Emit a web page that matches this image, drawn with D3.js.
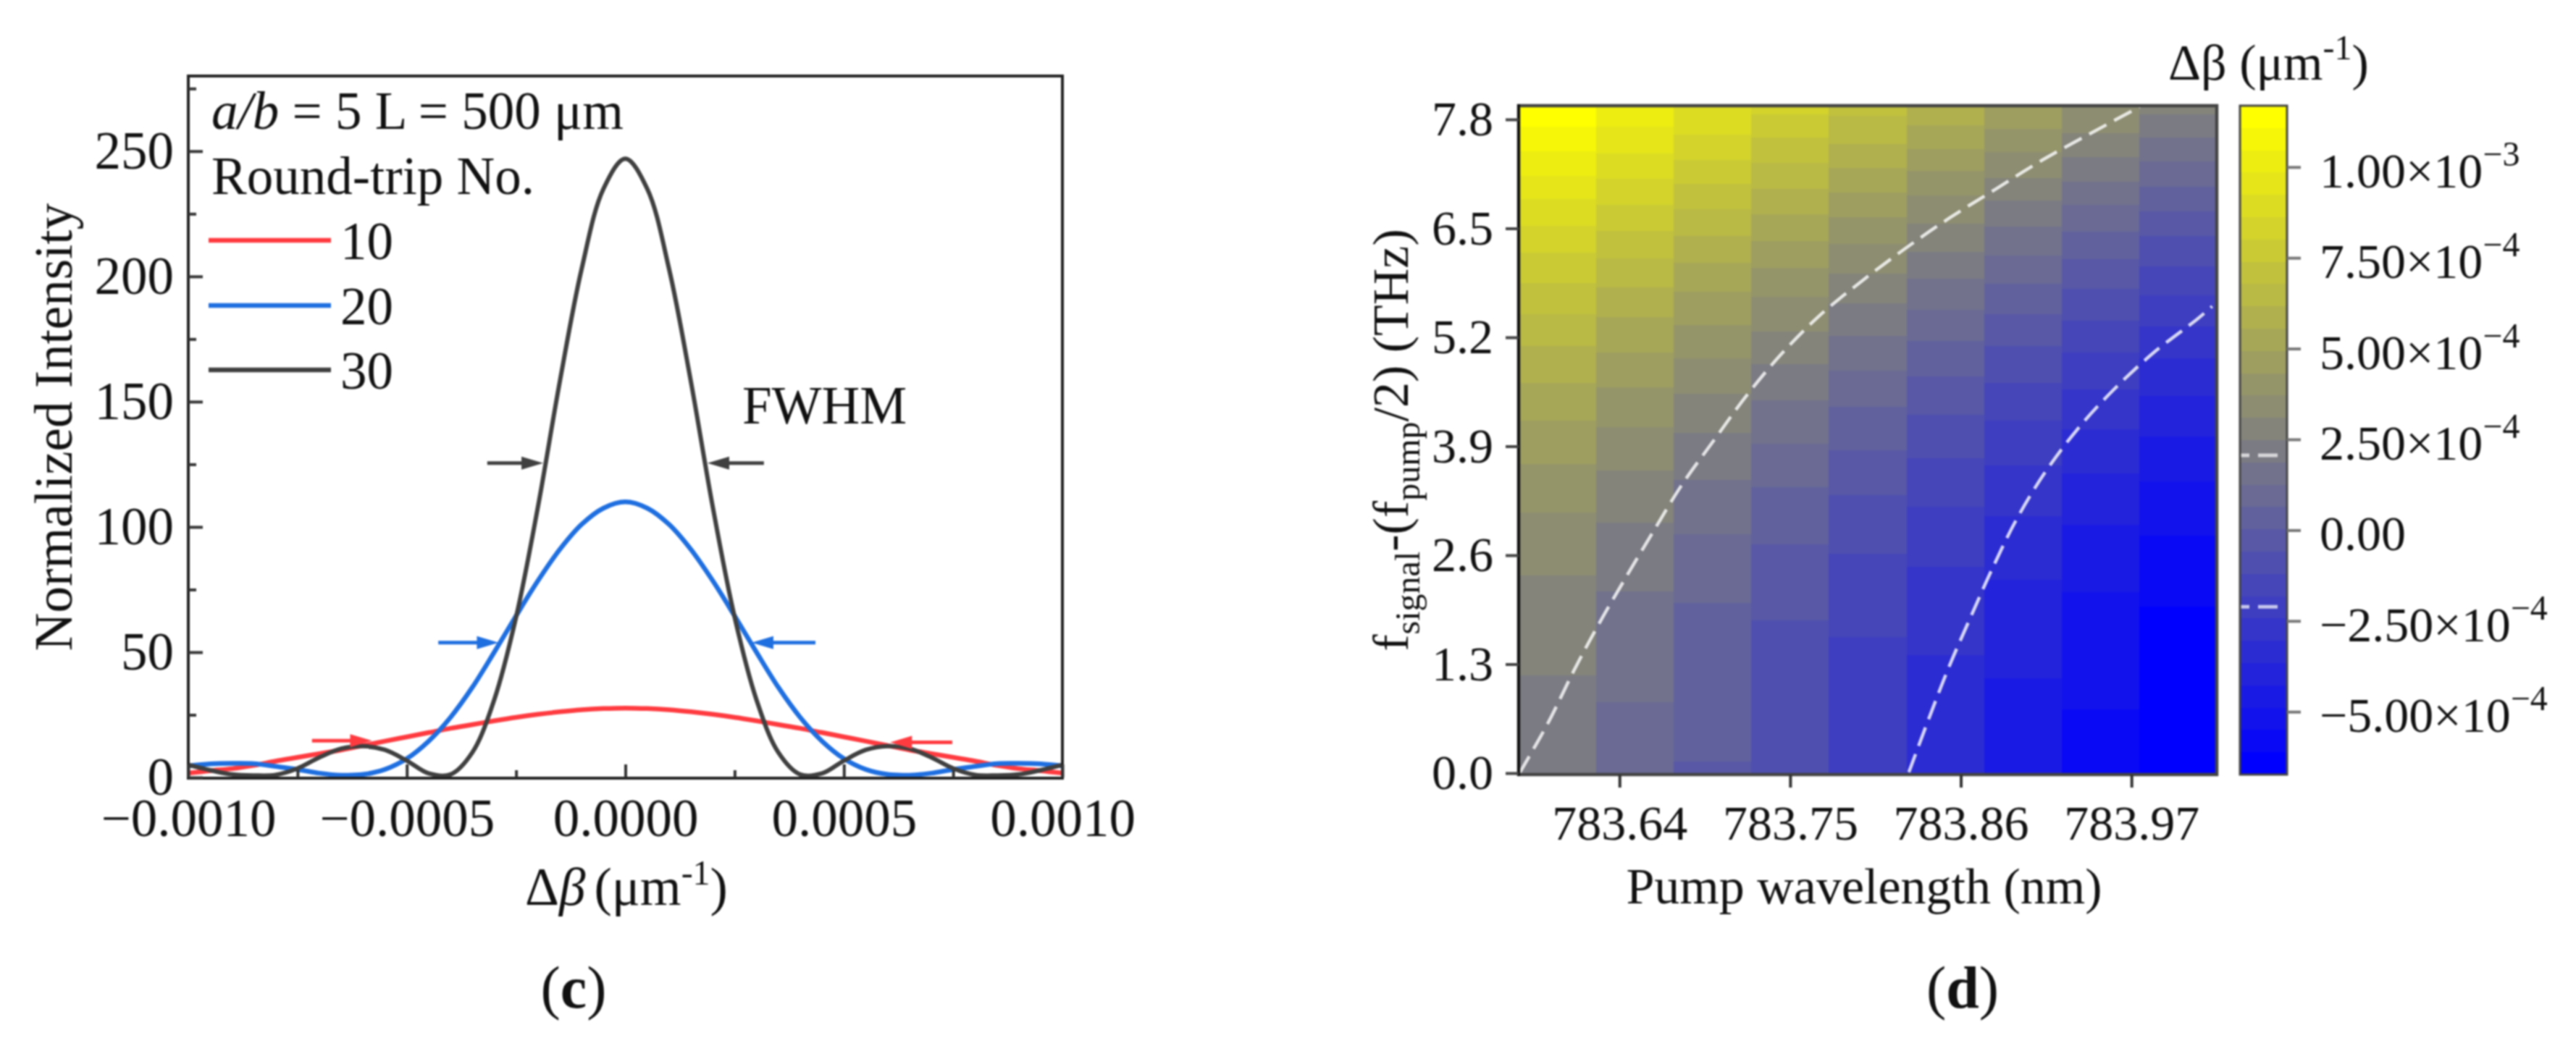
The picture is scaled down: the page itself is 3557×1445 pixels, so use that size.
<!DOCTYPE html>
<html>
<head>
<meta charset="utf-8">
<script src="https://cdn.jsdelivr.net/npm/d3@7"></script>
<style>
  body { margin: 0; background: #fff; }
  svg { display: block; filter: blur(0.8px); }
  text { font-family: "Liberation Serif", serif; fill: #111; }
</style>
</head>
<body>
<script>
// panel (c) values
const deltaBeta = [-0.001, -0.00095, -0.0009, -0.00085, -0.0008, -0.00075, -0.0007, -0.00065, -0.0006, -0.00055, -0.0005,
  -0.00045, -0.0004, -0.00035, -0.0003, -0.00025, -0.0002, -0.00015, -0.0001, -0.00005, 0,
  0.00005, 0.0001, 0.00015, 0.0002, 0.00025, 0.0003, 0.00035, 0.0004, 0.00045, 0.0005,
  0.00055, 0.0006, 0.00065, 0.0007, 0.00075, 0.0008, 0.00085, 0.0009, 0.00095, 0.001];
const trip10 = [1.7, 2.7, 3.5, 4.8, 6.5, 8, 9.5, 11, 12.7, 14.5, 16.2, 17.9, 19.6, 21.1, 22.6, 24, 25.2, 26.2, 27, 27.5, 27.7,
  27.5, 27, 26.2, 25.2, 24, 22.6, 21.1, 19.6, 17.9, 16.2, 14.5, 12.7, 11, 9.5, 8, 6.5, 4.8, 3.5, 2.7, 1.7];
const trip20 = [4.6, 5.4, 5.6, 5.5, 4.4, 3.2, 1.7, 0.9, 1.2, 3.2, 7.5, 14.5, 24, 36, 50, 64.5, 78.5, 91, 101, 107.5, 110,
  107.5, 101, 91, 78.5, 64.5, 50, 36, 24, 14.5, 7.5, 3.2, 1.2, 0.9, 1.7, 3.2, 4.4, 5.5, 5.6, 5.4, 4.6];
const trip30 = [5, 2.9, 1.2, 0.8, 1, 3.6, 8, 11.5, 12.5, 11, 6.7, 1.6, 1.2, 10, 31, 64, 108, 158, 203, 235, 247,
  235, 203, 158, 108, 64, 31, 10, 1.2, 1.6, 6.7, 11, 12.5, 11.5, 8, 3.6, 1, 0.8, 1.2, 2.9, 5];
const tripNames = ['10', '20', '30'];
const tripColors = ['#ff3b40', '#1f6fe0', '#404040'];
const xTicksC = [-0.001, -0.0005, 0, 0.0005, 0.001];
const xTickLabelsC = ['\u22120.0010', '\u22120.0005', '0.0000', '0.0005', '0.0010'];
const xMinorC = [-0.00075, -0.00025, 0.00025, 0.00075];
const yTicksC = [0, 50, 100, 150, 200, 250];
const yMinorC = [25, 75, 125, 175, 225, 275];
// FWHM arrows: [series, level, tail, tip]
const fwhmArrows = [
  [2, 125.5, -0.000316, -0.000188], [2, 125.5, 0.000317, 0.000188],
  [1, 53.8, -0.000428, -0.00029], [1, 53.8, 0.000435, 0.000289],
  [0, 14.7, -0.000717, -0.00058], [0, 14, 0.000748, 0.000606],
];

// panel (d) values
const pumpWavelength = [783.6, 783.65, 783.7, 783.75, 783.8, 783.85, 783.9, 783.95, 784.0];
const xTicksD = [783.64, 783.75, 783.86, 783.97];
const yTicksD = [0, 1.3, 2.6, 3.9, 5.2, 6.5, 7.8];
// band number at the top of each column, counted down one per edge
const topBand = [29, 27, 25, 24, 22, 20, 18, 16, 15];
// frequency (THz) where each column steps to the next band, top to bottom
const bandEdges = [
  [7.71, 7.42, 7.13, 6.85, 6.53, 6.21, 5.85, 5.48, 5.10, 4.66, 4.21, 3.69, 3.11, 2.36, 1.17],
  [7.71, 7.39, 7.09, 6.78, 6.47, 6.14, 5.80, 5.44, 5.02, 4.60, 4.13, 3.61, 2.99, 2.17, 0.85],
  [7.62, 7.32, 7.03, 6.73, 6.41, 6.09, 5.74, 5.35, 4.95, 4.53, 4.06, 3.50, 2.85, 2.03, 0.14],
  [7.86, 7.58, 7.28, 6.97, 6.67, 6.35, 6.03, 5.68, 5.27, 4.88, 4.45, 3.93, 3.41, 2.73, 1.82],
  [7.84, 7.51, 7.22, 6.93, 6.63, 6.31, 5.96, 5.61, 5.22, 4.80, 4.37, 3.85, 3.32, 2.62, 1.62],
  [7.73, 7.45, 7.19, 6.89, 6.56, 6.22, 5.90, 5.53, 5.16, 4.73, 4.28, 3.76, 3.18, 2.46, 1.41],
  [7.69, 7.41, 7.10, 6.83, 6.52, 6.18, 5.84, 5.48, 5.10, 4.66, 4.21, 3.67, 3.07, 2.31, 1.13],
  [7.64, 7.35, 7.06, 6.78, 6.46, 6.13, 5.78, 5.40, 5.02, 4.58, 4.10, 3.58, 2.96, 2.16, 0.76],
  [7.86, 7.58, 7.30, 7.00, 6.70, 6.41, 6.05, 5.70, 5.33, 4.95, 4.50, 4.02, 3.48, 2.83, 1.99],
];
const contourA = [[783.5755, 0], [783.5937, 0.59], [783.6105, 1.22], [783.6264, 1.77], [783.6433, 2.31], [783.662, 2.89],
  [783.6802, 3.44], [783.7012, 3.98], [783.7213, 4.49], [783.7438, 4.99], [783.769, 5.46], [783.7961, 5.87],
  [783.8242, 6.26], [783.8532, 6.63], [783.8826, 6.97], [783.913, 7.32], [783.9443, 7.64], [783.9752, 7.95]];
const contourB = [[783.8265, 0.01], [783.8396, 0.66], [783.8522, 1.26], [783.8663, 1.86], [783.8803, 2.44], [783.8957, 3.02],
  [783.914, 3.58], [783.9355, 4.11], [783.9588, 4.58], [783.9845, 5.02], [784.0126, 5.42], [784.022, 5.57]];
const contourLevels = [2.06e-4, -2.11e-4];
const barTicks = [1e-3, 7.5e-4, 5e-4, 2.5e-4, 0, -2.5e-4, -5e-4];
const barMantissas = ['1.00', '7.50', '5.00', '2.50', '0.00', '\u22122.50', '\u22125.00'];
const barExponents = ['\u22123', '\u22124', '\u22124', '\u22124', '', '\u22124', '\u22124'];
const bandCount = 30;

const width = 3557, height = 1445;
const svg = d3.select('body').append('svg').attr('width', width).attr('height', height);

function styleTicks(g, color, w) {
  g.select('.domain').remove();
  g.selectAll('line').attr('stroke', color).attr('stroke-width', w);
}

// ---------- panel (c)
const xC = d3.scaleLinear().domain([-0.001, 0.001]).range([260, 1467]);
const yC = d3.scaleLinear().domain([0, 280]).range([1074, 105]);
const fsC = 73;

svg.append('defs').append('clipPath').attr('id', 'clipC').append('rect')
  .attr('x', 260).attr('y', 105).attr('width', 1207).attr('height', 969);

const lineC = d3.line().x((d) => xC(d[0])).y((d) => yC(d[1])).curve(d3.curveCatmullRom);
[trip10, trip20, trip30].forEach((vals, i) => {
  svg.append('path')
    .attr('clip-path', 'url(#clipC)')
    .attr('d', lineC(vals.map((v, j) => [deltaBeta[j], v])))
    .attr('fill', 'none')
    .attr('stroke', tripColors[i])
    .attr('stroke-width', i === 2 ? 6 : 6.5);
});

fwhmArrows.forEach(([s, level, tail, tip]) => {
  const dir = tip > tail ? 1 : -1;
  const tx = xC(tip), py = yC(level);
  svg.append('line').attr('x1', xC(tail)).attr('x2', tx - dir * 20).attr('y1', py).attr('y2', py)
    .attr('stroke', tripColors[s]).attr('stroke-width', 5);
  svg.append('path')
    .attr('d', d3.line()([[tx, py], [tx - dir * 30, py - 9], [tx - dir * 30, py + 9]]) + 'Z')
    .attr('fill', tripColors[s]);
});

svg.append('rect').attr('x', 260).attr('y', 105).attr('width', 1207).attr('height', 970)
  .attr('fill', 'none').attr('stroke', '#222').attr('stroke-width', 4);

const xAxisC = svg.append('g').attr('transform', 'translate(0,1074)')
  .call(d3.axisBottom(xC).tickValues(xTicksC).tickSize(-18).tickPadding(29)
    .tickFormat((d, i) => xTickLabelsC[i]));
styleTicks(xAxisC, '#333', 4);
xAxisC.selectAll('text').attr('font-size', fsC).attr('font-family', null).style('fill', '#111');

const xMinorAxisC = svg.append('g').attr('transform', 'translate(0,1074)')
  .call(d3.axisBottom(xC).tickValues(xMinorC).tickSize(-10).tickFormat(''));
styleTicks(xMinorAxisC, '#333', 4);

const yAxisC = svg.append('g').attr('transform', 'translate(260,0)')
  .call(d3.axisLeft(yC).tickValues(yTicksC).tickSize(-20).tickPadding(20));
styleTicks(yAxisC, '#333', 4);
yAxisC.selectAll('text').attr('font-size', fsC).attr('font-family', null).style('fill', '#111');

const yMinorAxisC = svg.append('g').attr('transform', 'translate(260,0)')
  .call(d3.axisLeft(yC).tickValues(yMinorC).tickSize(-11).tickFormat(''));
styleTicks(yMinorAxisC, '#333', 4);

const header = svg.append('text').attr('x', 292).attr('y', 178).attr('font-size', fsC);
header.append('tspan').attr('font-style', 'italic').text('a/b');
header.append('tspan').text(' = 5 L = 500 \u03bcm');
svg.append('text').attr('x', 292).attr('y', 268).attr('font-size', fsC).text('Round-trip No.');

[332, 422, 511].forEach((ly, i) => {
  svg.append('line').attr('x1', 288).attr('x2', 457).attr('y1', ly).attr('y2', ly)
    .attr('stroke', tripColors[i]).attr('stroke-width', 6.5);
  svg.append('text').attr('x', 543).attr('y', ly + 26).attr('text-anchor', 'end')
    .attr('font-size', fsC).text(tripNames[i]);
});

svg.append('text').attr('x', 1025).attr('y', 585).attr('font-size', fsC).text('FWHM');

svg.append('text').attr('transform', 'translate(99,590) rotate(-90)')
  .attr('text-anchor', 'middle').attr('font-size', fsC).text('Normalized Intensity');

const xTitleC = svg.append('text').attr('x', 865).attr('y', 1250)
  .attr('text-anchor', 'middle').attr('font-size', fsC);
xTitleC.append('tspan').text('\u0394');
xTitleC.append('tspan').attr('font-style', 'italic').text('\u03b2');
xTitleC.append('tspan').attr('dx', 12).text('(\u03bcm');
xTitleC.append('tspan').attr('font-size', 48).attr('dy', -28).text('-1');
xTitleC.append('tspan').attr('dy', 28).text(')');

const capC = svg.append('text').attr('x', 792).attr('y', 1392).attr('text-anchor', 'middle').attr('font-size', 82);
capC.append('tspan').text('(');
capC.append('tspan').attr('font-weight', 'bold').text('c');
capC.append('tspan').text(')');

// ---------- panel (d)
const xD = d3.scaleLinear().domain([783.575, 784.025]).range([2097, 3061]);
const yD = d3.scaleLinear().domain([-0.017, 7.964]).range([1070, 146]);
const barY = d3.scaleLinear().domain([-6.73e-4, 1.169e-3]).range([1070, 146]);
const bandColor = d3.scaleLinear().domain([0, bandCount - 1]).range(['#0000ff', '#ffff00']);
const fsD = 68;
const halfStep = 0.025;

const heat = svg.append('g').attr('shape-rendering', 'crispEdges');
pumpWavelength.forEach((wl, c) => {
  const edges = [yD.domain()[1], ...bandEdges[c], yD.domain()[0]];
  d3.pairs(edges).forEach(([hi, lo], k) => {
    heat.append('rect')
      .attr('x', xD(wl - halfStep))
      .attr('width', xD(wl + halfStep) - xD(wl - halfStep))
      .attr('y', yD(hi))
      .attr('height', yD(lo) - yD(hi))
      .attr('fill', bandColor(topBand[c] - k));
  });
});

svg.select('defs').append('clipPath').attr('id', 'clipD').append('rect')
  .attr('x', 2097).attr('y', 146).attr('width', 964).attr('height', 924);

const lineD = d3.line().x((d) => xD(d[0])).y((d) => yD(d[1])).curve(d3.curveCatmullRom);
[contourA, contourB].forEach((pts) => {
  svg.append('path')
    .attr('clip-path', 'url(#clipD)')
    .attr('d', lineD(pts))
    .attr('fill', 'none')
    .attr('stroke', '#fff')
    .attr('stroke-opacity', 0.8)
    .attr('stroke-width', 4.5)
    .attr('stroke-dasharray', '27 12');
});

svg.append('rect').attr('x', 2097).attr('y', 146).attr('width', 964).attr('height', 924)
  .attr('fill', 'none').attr('stroke', '#444').attr('stroke-width', 4.5);
svg.append('line').attr('x1', 2097).attr('x2', 2097).attr('y1', 144).attr('y2', 1072)
  .attr('stroke', '#111').attr('stroke-width', 4);

const xAxisD = svg.append('g').attr('transform', 'translate(0,1070)')
  .call(d3.axisBottom(xD).tickValues(xTicksD).tickSize(18).tickPadding(24).tickFormat(d3.format('.2f')));
styleTicks(xAxisD, '#333', 4);
xAxisD.selectAll('text').attr('font-size', fsD).attr('font-family', null).style('fill', '#111');

const yAxisD = svg.append('g').attr('transform', 'translate(2097,0)')
  .call(d3.axisLeft(yD).tickValues(yTicksD).tickSize(18).tickPadding(17).tickFormat(d3.format('.1f')));
styleTicks(yAxisD, '#444', 4);
yAxisD.selectAll('text').attr('font-size', fsD).attr('font-family', null).style('fill', '#111');

svg.append('text').attr('x', 2574).attr('y', 1248).attr('text-anchor', 'middle')
  .attr('font-size', 70).text('Pump wavelength (nm)');

const yTitleD = svg.append('text').attr('transform', 'translate(1944,608) rotate(-90)')
  .attr('text-anchor', 'middle').attr('font-size', 70);
yTitleD.append('tspan').text('f');
yTitleD.append('tspan').attr('font-size', 48).attr('dy', 16).text('signal');
yTitleD.append('tspan').attr('dy', -16).text('-(f');
yTitleD.append('tspan').attr('font-size', 48).attr('dy', 16).text('pump');
yTitleD.append('tspan').attr('dy', -16).text('/2) (THz)');

// colour bar
const barLeft = 3093, barRight = 3158;
const bar = svg.append('g').attr('shape-rendering', 'crispEdges');
const bandStep = (barY.domain()[1] - barY.domain()[0]) / bandCount;
d3.range(bandCount).forEach((i) => {
  const lo = barY.domain()[0] + i * bandStep;
  bar.append('rect')
    .attr('x', barLeft).attr('width', barRight - barLeft)
    .attr('y', barY(lo + bandStep))
    .attr('height', barY(lo) - barY(lo + bandStep))
    .attr('fill', bandColor(i));
});
contourLevels.forEach((v) => {
  svg.append('line')
    .attr('x1', barLeft).attr('x2', barRight).attr('y1', barY(v)).attr('y2', barY(v))
    .attr('stroke', '#fff').attr('stroke-opacity', 0.7).attr('stroke-width', 5)
    .attr('stroke-dasharray', '27 12').attr('stroke-dashoffset', 14);
});
svg.append('rect').attr('x', barLeft).attr('y', 146).attr('width', barRight - barLeft).attr('height', 924)
  .attr('fill', 'none').attr('stroke', '#444').attr('stroke-width', 3);

const barAxis = svg.append('g').attr('transform', `translate(${barRight},0)`)
  .call(d3.axisRight(barY).tickValues(barTicks).tickSize(19).tickFormat(''));
styleTicks(barAxis, '#777', 4);

barTicks.forEach((v, i) => {
  const label = svg.append('text').attr('x', 3203).attr('y', barY(v) + 28).attr('font-size', fsD);
  label.append('tspan').text(barMantissas[i]);
  if (barExponents[i]) {
    label.append('tspan').text('\u00d710');
    label.append('tspan').attr('font-size', 48).attr('dy', -30).text(barExponents[i]);
  }
});

const barTitle = svg.append('text').attr('x', 2994).attr('y', 110).attr('font-size', 70);
barTitle.append('tspan').text('\u0394\u03b2 (\u03bcm');
barTitle.append('tspan').attr('font-size', 48).attr('dy', -28).text('-1');
barTitle.append('tspan').attr('dy', 28).text(')');

const capD = svg.append('text').attr('x', 2710).attr('y', 1392).attr('text-anchor', 'middle').attr('font-size', 82);
capD.append('tspan').text('(');
capD.append('tspan').attr('font-weight', 'bold').text('d');
capD.append('tspan').text(')');
</script>
</body>
</html>
